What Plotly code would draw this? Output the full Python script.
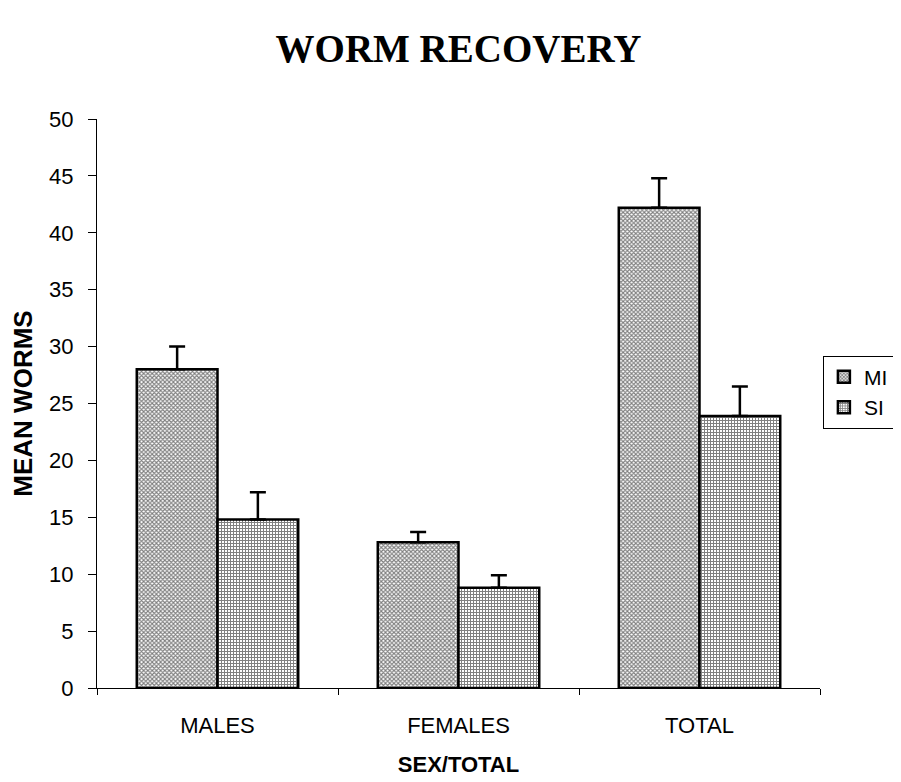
import plotly.graph_objects as go

categories = ["MALES", "FEMALES", "TOTAL"]
series_names = ["MI", "SI"]
mi_values = [28.0, 12.8, 42.2]
mi_errors = [2.0, 0.9, 2.6]
si_values = [14.8, 8.8, 23.9]
si_errors = [2.4, 1.1, 2.6]
y_ticks = [0, 5, 10, 15, 20, 25, 30, 35, 40, 45, 50]

fig = go.Figure()
fig.add_trace(go.Bar(
    name=series_names[0], x=categories, y=mi_values,
    marker=dict(color="white", line=dict(color="black", width=2.5),
                pattern=dict(shape="x", size=3, solidity=0.6, fgcolor="black", bgcolor="white", fillmode="overlay")),
    error_y=dict(type="data", symmetric=False, array=mi_errors, arrayminus=[0, 0, 0],
                 color="black", thickness=2.5, width=8),
))
fig.add_trace(go.Bar(
    name=series_names[1], x=categories, y=si_values,
    marker=dict(color="white", line=dict(color="black", width=2.5),
                pattern=dict(shape="+", size=3, solidity=0.55, fgcolor="black", bgcolor="white", fillmode="overlay")),
    error_y=dict(type="data", symmetric=False, array=si_errors, arrayminus=[0, 0, 0],
                 color="black", thickness=2.5, width=8),
))

fig.update_layout(
    width=901, height=782,
    paper_bgcolor="white", plot_bgcolor="white",
    margin=dict(l=89, r=89, t=111, b=102, autoexpand=False),
    barmode="group", bargap=0.33, bargroupgap=0,
    title=dict(text="<b>WORM RECOVERY</b>", x=0.5, xref="paper", xanchor="center",
               y=0.949, yanchor="middle",
               font=dict(family="Liberation Serif", size=39, color="black")),
    font=dict(family="Liberation Sans", size=22, color="black"),
    xaxis=dict(showline=True, linecolor="black", linewidth=1, ticks="outside", ticklen=6,
               tickcolor="black", tickson="boundaries", showgrid=False,
               tickfont=dict(size=22), ticklabelstandoff=18,
               title=dict(text="<b>SEX/TOTAL</b>", font=dict(size=22), standoff=19)),
    yaxis=dict(range=[0, 50], tickvals=y_ticks, showline=True, linecolor="black", linewidth=1,
               ticks="outside", ticklen=8, tickcolor="black", showgrid=False, zeroline=False,
               tickfont=dict(size=22), ticklabelstandoff=10,
               title=dict(text="<b>MEAN WORMS</b>", font=dict(size=26), standoff=10)),
    legend=dict(x=1.004, xanchor="left", y=0.584, yanchor="top",
                bordercolor="black", borderwidth=1, font=dict(size=21),
                itemwidth=30, tracegroupgap=0),
)

fig.write_html("out.html")
